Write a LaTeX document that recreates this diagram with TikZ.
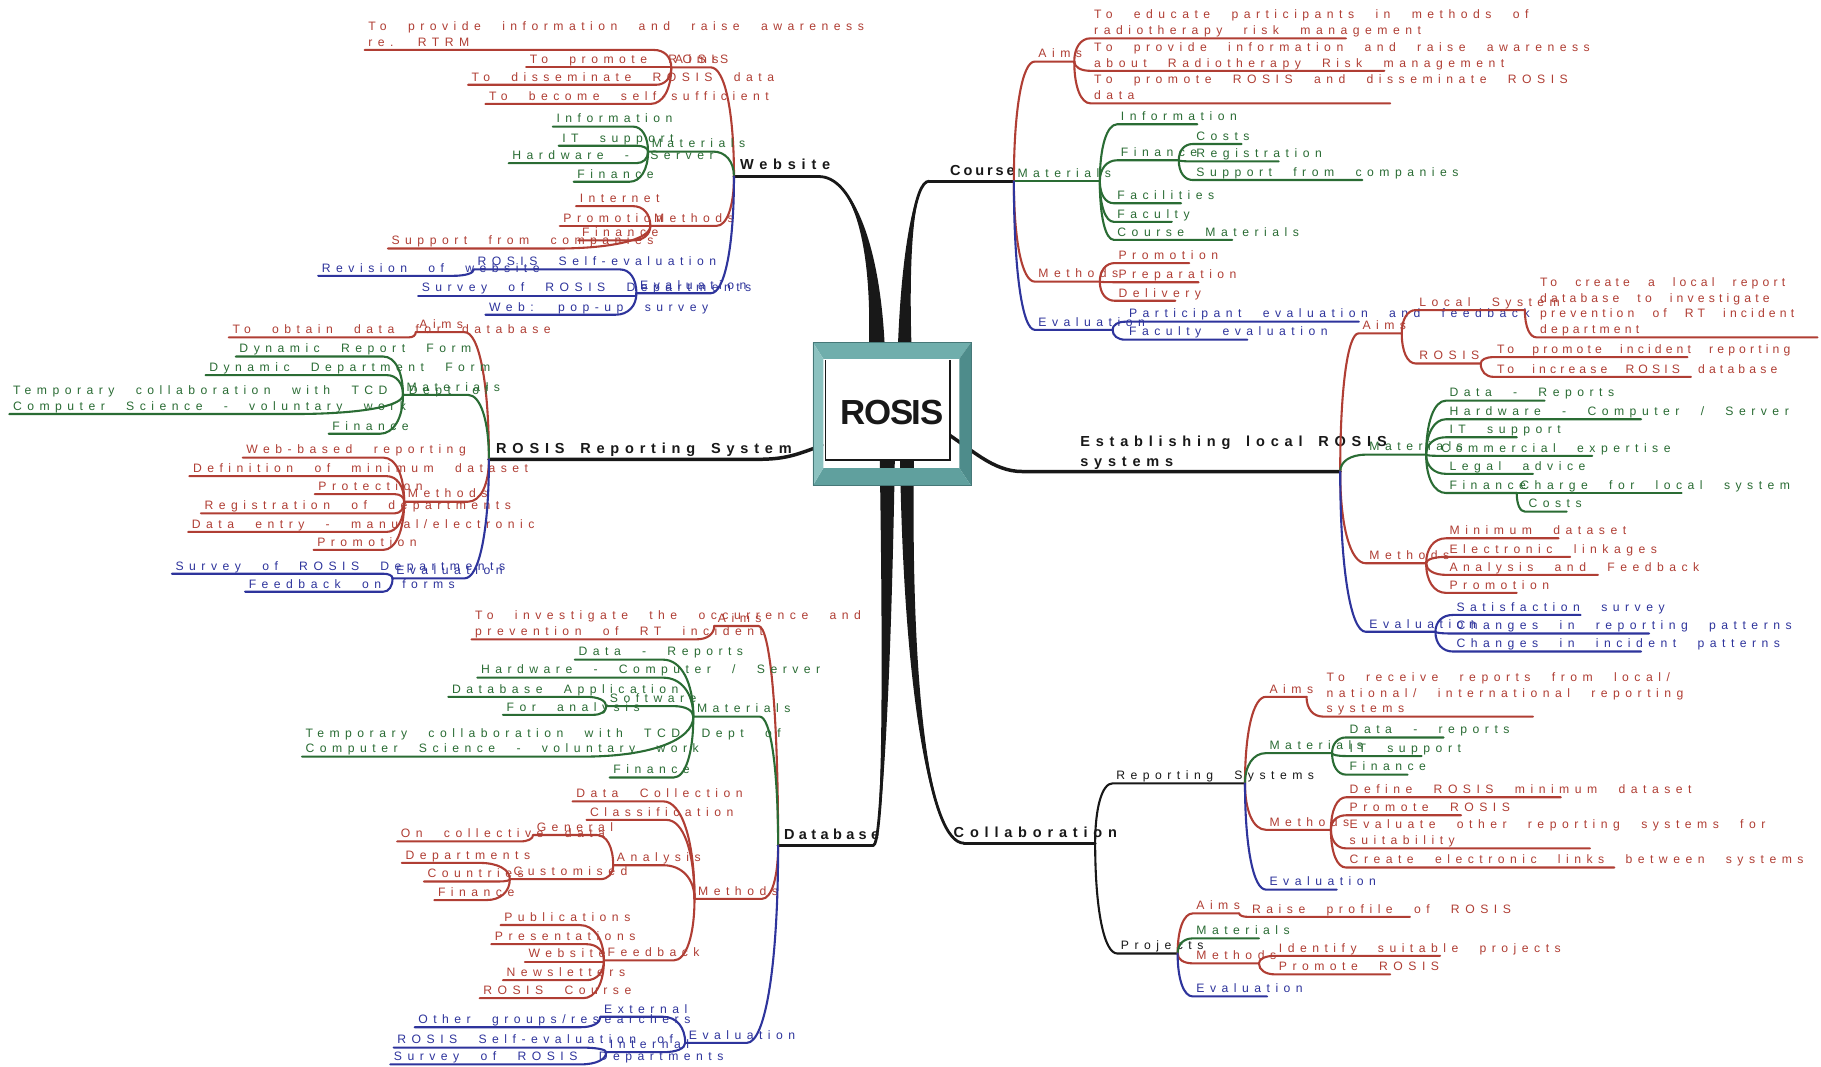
\documentclass[tikz,border=0pt]{standalone}
\usepackage{fontspec}
\usepackage{tikz}
\usetikzlibrary{calc}

\definecolor{redc}{RGB}{176,62,52}
\definecolor{greenc}{RGB}{42,108,52}
\definecolor{bluec}{RGB}{46,52,156}
\definecolor{blackc}{RGB}{24,24,24}
\definecolor{tealtop}{RGB}{112,174,172}
\definecolor{tealleft}{RGB}{140,194,192}
\definecolor{tealright}{RGB}{78,140,139}
\definecolor{tealbottom}{RGB}{96,160,158}
\definecolor{tealedge}{RGB}{70,120,120}

\newfontfamily\twigfamily[LetterSpace=45, WordSpace=2.4]{Liberation Sans}
\newfontfamily\headfamily[LetterSpace=40, WordSpace=1.6]{Liberation Sans}
\newfontfamily\rosisfamily[LetterSpace=-4]{Liberation Sans}
\newcommand{\twigfont}{\twigfamily\fontsize{10.5}{13.5}\selectfont}
\newcommand{\headfont}{\headfamily\bfseries\fontsize{12.5}{16.5}\selectfont}
\newcommand{\tight}{\addfontfeature{LetterSpace=34}}

% twig growing to the left: #4 = end joined to the parent, #5 = own junction
\newcommand{\ltwig}[7]{%
  \coordinate (#1) at (#5,#6);
  \coordinate (#1-f) at (#4,#6);
  \draw[link,#2] (#3) .. controls ($(#3)!0.6!(#3 |- #1-f)$) and ($(#1-f)!0.6!(#3 |- #1-f)$) .. (#1-f) -- (#1);
  \node[twig,text=#2] (#1-t) at ([shift={(3,-3)}]#1) {#7};
}
% twig growing to the right
\newcommand{\rtwig}[7]{%
  \coordinate (#1-f) at (#4,#6);
  \coordinate (#1) at (#5,#6);
  \draw[link,#2] (#3) .. controls ($(#3)!0.6!(#3 |- #1-f)$) and ($(#1-f)!0.6!(#3 |- #1-f)$) .. (#1-f) -- (#1);
  \node[twig,text=#2] (#1-t) at ([shift={(3,-3)}]#1-f) {#7};
}
% thick tapered main branch out of the centre box
\newcommand{\trunk}[3]{%
  \fill[blackc] ($(#1)+(-#3,0)$) .. controls ($(#1)!0.6!(#1 |- #2)+(-#3*0.5,0)$) and ($(#2)!0.6!(#1 |- #2)$) .. (#2)
    .. controls ($(#2)!0.6!(#1 |- #2)$) and ($(#1)!0.6!(#1 |- #2)+(#3*0.5,0)$) .. ($(#1)+(#3,0)$) -- cycle;
  \draw[trunkline] (#1) .. controls ($(#1)!0.6!(#1 |- #2)$) and ($(#2)!0.6!(#1 |- #2)$) .. (#2);
}

\begin{document}
\begin{tikzpicture}[x=1pt, y=-1pt,
  link/.style={line width=1.8pt, line cap=round},
  twig/.style={font=\twigfont, inner sep=0pt, text depth=0pt, anchor=south west, align=left},
  head/.style={font=\headfont, text=blackc, inner sep=0pt, text depth=0pt, anchor=south west, align=left},
  trunkline/.style={draw=blackc, line width=2.4pt, line cap=round}]

  \fill[white] (0,0) rectangle (1568,918);
  \useasboundingbox (0,0) rectangle (1568,918);

  % centre box and the points where the main branches leave it
  \node[minimum width=136pt, minimum height=123pt, inner sep=0pt] (rosis) at (768,356.5) {};
  \coordinate (web-b) at ([shift={(-13,8)}]rosis.north);
  \coordinate (crs-b) at ([shift={(11,8)}]rosis.north);
  \coordinate (db-b) at ([shift={(-4,-23)}]rosis.south);
  \coordinate (col-b) at ([shift={(13,-23)}]rosis.south);
  \coordinate (rep-b) at ([shift={(8,27)}]rosis.west);
  \coordinate (est-b) at ([shift={(-22,16)}]rosis.east);

  % junctions of the main branches
  \coordinate (w) at (632,152);   \coordinate (w-f) at (705,152);
  \coordinate (c) at (873,156);   \coordinate (c-f) at (800,156);
  \coordinate (r) at (421,395.5); \coordinate (r-f) at (652,395.5);
  \coordinate (e) at (1154,406);  \coordinate (e-f) at (880,406);
  \coordinate (d) at (670,728);   \coordinate (d-f) at (752,728);
  \coordinate (co) at (943,726);  \coordinate (co-f) at (830,726);

  % main branches
  \trunk{web-b}{w-f}{7}
  \draw[trunkline] (w-f) -- (w);
  \trunk{crs-b}{c-f}{6}
  \draw[trunkline] (c-f) -- (c);
  \trunk{db-b}{d-f}{6.5}
  \draw[trunkline] (d-f) -- (d);
  \trunk{col-b}{co-f}{6}
  \draw[trunkline] (co-f) -- (co);
  \draw[trunkline, line width=3pt] (rep-b) .. controls +(-22,8) and +(25,0) .. (r-f) -- (r);
  \draw[trunkline, line width=3pt] (est-b) .. controls +(22,14) and +(-25,0) .. (e-f) -- (e);

  % bevelled frame
  \fill[white] (711,310) rectangle (818,396);
  \fill[tealtop] (700,295) -- (836,295) -- (826,309) -- (709,309) -- cycle;
  \fill[tealright] (836,295) -- (836,418) -- (826,403) -- (826,309) -- cycle;
  \fill[tealbottom] (700,418) -- (836,418) -- (826,403) -- (709,403) -- cycle;
  \fill[tealleft] (700,295) -- (709,309) -- (709,403) -- (700,418) -- cycle;
  \draw[tealedge, line width=0.6pt] (700,295) rectangle (836,418);
  \draw[blackc, line width=1.2pt] (711,310) -- (711,396) -- (818,396) -- (818,310);
  \node[font=\rosisfamily\bfseries\fontsize{30}{30}\selectfont, text=blackc, inner sep=0pt] (rosis-text) at (768,355) {ROSIS};

  % main labels
  \node[head] (w-label) at (637,146.5) {Website};
  \node[head] (c-label) at (818,151.5) {\addfontfeature{LetterSpace=20}Course};
  \node[head] (r-label) at (427,390.5) {ROSIS Reporting System};
  \node[head] (e-label) at (930,401.5) {Establishing local ROSIS\\systems};
  \node[head] (d-label) at (675,723) {\addfontfeature{LetterSpace=30}Database};
  \node[head] (co-label) at (821,721) {Collaboration};

  % Website
  \ltwig{w-aims}{redc}{w}{612}{578}{58}{Aims}
  \ltwig{w-a1}{redc}{w-aims}{563}{314}{43}{To provide information and raise awareness\\re. RTRM}
  \ltwig{w-a2}{redc}{w-aims}{578}{453}{58}{To promote ROSIS}
  \ltwig{w-a3}{redc}{w-aims}{565}{403}{73}{To disseminate ROSIS data}
  \ltwig{w-a4}{redc}{w-aims}{560}{418}{89.5}{To become self-sufficient}
  \ltwig{w-mat}{greenc}{w}{614}{558}{130.5}{Materials}
  \ltwig{w-m1}{greenc}{w-mat}{545}{476}{109}{Information}
  \ltwig{w-m2}{greenc}{w-mat}{548}{481}{125.5}{IT support}
  \ltwig{w-m3}{greenc}{w-mat}{548}{438}{140.5}{Hardware - Server}
  \ltwig{w-m4}{greenc}{w-mat}{542}{494}{156.5}{Finance}
  \ltwig{w-meth}{redc}{w}{617}{560}{194.5}{Methods}
  \ltwig{w-me1}{redc}{w-meth}{545}{496}{177.5}{Internet}
  \ltwig{w-me2}{redc}{w-meth}{560}{482}{194.5}{Promotion}
  \ltwig{w-me3}{redc}{w-meth}{545}{498}{207}{Finance}
  \ltwig{w-me4}{redc}{w-meth}{479}{334}{214}{Support from companies}
  \ltwig{w-eval}{bluec}{w}{612}{548}{252.5}{Evaluation}
  \ltwig{w-e1}{bluec}{w-eval}{534}{408}{232}{ROSIS Self-evaluation}
  \ltwig{w-e11}{bluec}{w-e1}{390}{274}{237.5}{Revision of website}
  \ltwig{w-e2}{bluec}{w-eval}{548}{360}{254.5}{Survey of ROSIS Departments}
  \ltwig{w-e3}{bluec}{w-eval}{530}{418}{271}{Web: pop-up survey}

  % Course
  \rtwig{c-aims}{redc}{c}{891}{925}{53}{Aims}
  \rtwig{c-a1}{redc}{c-aims}{939}{1159}{33}{To educate participants in methods of\\radiotherapy risk management}
  \rtwig{c-a2}{redc}{c-aims}{939}{1192}{61}{To provide information and raise awareness\\about Radiotherapy Risk management}
  \rtwig{c-a3}{redc}{c-aims}{939}{1197}{89}{To promote ROSIS and disseminate ROSIS\\data}
  \rtwig{c-mat}{greenc}{c}{873}{947}{156}{Materials}
  \rtwig{c-m1}{greenc}{c-mat}{962}{1031}{107}{Information}
  \rtwig{c-m2}{greenc}{c-mat}{962}{1015}{138}{Finance}
  \rtwig{c-m21}{greenc}{c-m2}{1027}{1069}{124}{Costs}
  \rtwig{c-m22}{greenc}{c-m2}{1027}{1101}{139}{Registration}
  \rtwig{c-m23}{greenc}{c-m2}{1027}{1173}{155}{Support from companies}
  \rtwig{c-m3}{greenc}{c-mat}{959}{1017}{175}{Facilities}
  \rtwig{c-m4}{greenc}{c-mat}{959}{1009}{191}{Faculty}
  \rtwig{c-m5}{greenc}{c-mat}{959}{1061}{206.5}{Course Materials}
  \rtwig{c-meth}{redc}{c}{891}{947}{242.5}{Methods}
  \rtwig{c-me1}{redc}{c-meth}{960}{1024}{226.5}{Promotion}
  \rtwig{c-me2}{redc}{c-meth}{960}{1032}{243}{Preparation}
  \rtwig{c-me3}{redc}{c-meth}{960}{1012}{259}{Delivery}
  \rtwig{c-eval}{bluec}{c}{891}{958}{284}{Evaluation}
  \rtwig{c-e1}{bluec}{c-eval}{969}{1170}{277}{Participant evaluation and feedback}
  \rtwig{c-e2}{bluec}{c-eval}{969}{1074}{292.5}{Faculty evaluation}

  % ROSIS Reporting System
  \ltwig{r-aims}{redc}{r}{400}{358}{286}{Aims}
  \ltwig{r-a1}{redc}{r-aims}{352}{197}{290.5}{To obtain data for database}
  \ltwig{r-mat}{greenc}{r}{403}{347}{340}{Materials}
  \ltwig{r-m1}{greenc}{r-mat}{330}{203}{307}{Dynamic Report Form}
  \ltwig{r-m2}{greenc}{r-mat}{333}{177}{323}{Dynamic Department Form}
  \ltwig{r-m3}{greenc}{r-mat}{253}{8}{356.5}{Temporary collaboration with TCD Dept of\\Computer Science - voluntary work}
  \ltwig{r-m4}{greenc}{r-mat}{327}{283}{373.5}{Finance}
  \ltwig{r-meth}{redc}{r}{403}{348}{432}{Methods}
  \ltwig{r-me1}{redc}{r-meth}{330}{209}{394}{Web-based reporting}
  \ltwig{r-me2}{redc}{r-meth}{333}{163}{410}{Definition of minimum dataset}
  \ltwig{r-me3}{redc}{r-meth}{340}{271}{425.5}{Protection}
  \ltwig{r-me4}{redc}{r-meth}{340}{173}{442}{Registration of departments}
  \ltwig{r-me5}{redc}{r-meth}{333}{162}{458}{Data entry - manual/electronic}
  \ltwig{r-me6}{redc}{r-meth}{330}{270}{473.5}{Promotion}
  \ltwig{r-eval}{bluec}{r}{400}{338}{498}{Evaluation}
  \ltwig{r-e1}{bluec}{r-eval}{330}{148}{494}{Survey of ROSIS Departments}
  \ltwig{r-e2}{bluec}{r-eval}{330}{211}{509.5}{Feedback on forms}

  % Database
  \ltwig{d-aims}{redc}{d}{653}{615}{539}{Aims}
  \ltwig{d-a1}{redc}{d-aims}{600}{406}{550.5}{To investigate the occurrence and\\prevention of RT incident}
  \ltwig{d-mat}{greenc}{d}{654}{597}{617}{Materials}
  \ltwig{d-m1}{greenc}{d-mat}{571}{495}{568}{Data - Reports}
  \ltwig{d-m2}{greenc}{d-mat}{571}{411}{583.5}{Hardware - Computer / Server}
  \ltwig{d-m3}{greenc}{d-mat}{580}{522}{608}{Software}
  \ltwig{d-m31}{greenc}{d-m3}{505}{386}{600}{Database Application}
  \ltwig{d-m32}{greenc}{d-m3}{511}{433}{615.5}{For analysis}
  \ltwig{d-m4}{greenc}{d-mat}{502}{260}{651.5}{Temporary collaboration with TCD Dept of\\Computer Science - voluntary work}
  \ltwig{d-m5}{greenc}{d-mat}{580}{525}{669.5}{Finance}
  \ltwig{d-meth}{redc}{d}{656}{598}{774}{Methods}
  \ltwig{d-me1}{redc}{d-meth}{571}{493}{690}{Data Collection}
  \ltwig{d-me2}{redc}{d-meth}{574}{505}{706}{Classification}
  \ltwig{d-me3}{redc}{d-meth}{571}{528}{745}{Analysis}
  \ltwig{d-me31}{redc}{d-me3}{514}{459}{719}{General}
  \ltwig{d-me311}{redc}{d-me31}{448}{342}{724.5}{On collective data}
  \ltwig{d-me32}{redc}{d-me3}{517}{439}{757}{Customised}
  \ltwig{d-me321}{redc}{d-me32}{413}{346}{743}{Departments}
  \ltwig{d-me322}{redc}{d-me32}{430}{365}{759}{Countries}
  \ltwig{d-me323}{redc}{d-me32}{419}{374}{775}{Finance}
  \ltwig{d-me4}{redc}{d-meth}{580}{520}{827}{Feedback}
  \ltwig{d-me41}{redc}{d-me4}{499}{431}{796.5}{Publications}
  \ltwig{d-me42}{redc}{d-me4}{505}{423}{813}{Presentations}
  \ltwig{d-me43}{redc}{d-me4}{520}{452}{828}{Website}
  \ltwig{d-me44}{redc}{d-me4}{505}{433}{844}{Newsletters}
  \ltwig{d-me45}{redc}{d-me4}{502}{413}{859.5}{ROSIS Course}
  \ltwig{d-eval}{bluec}{d}{643}{590}{898}{Evaluation}
  \ltwig{d-e1}{bluec}{d-eval}{571}{517}{875.5}{External}
  \ltwig{d-e11}{bluec}{d-e1}{500}{357}{884.5}{Other groups/researchers}
  \ltwig{d-e2}{bluec}{d-eval}{571}{522}{906}{Internal}
  \ltwig{d-e21}{bluec}{d-e2}{500}{339}{902}{ROSIS Self-evaluation of}
  \ltwig{d-e22}{bluec}{d-e2}{500}{336}{916.5}{Survey of ROSIS Departments}

  % Establishing local ROSIS systems
  \rtwig{e-aims}{redc}{e}{1170}{1207}{287}{Aims}
  \rtwig{e-a1}{redc}{e-aims}{1219}{1313}{267}{Local System}
  \rtwig{e-a11}{redc}{e-a1}{1323}{1565}{290.5}{\tight To create a local report\\\tight database to investigate\\\tight prevention of RT incident\\\tight department}
  \rtwig{e-a2}{redc}{e-aims}{1219}{1275}{313}{ROSIS}
  \rtwig{e-a21}{redc}{e-a2}{1286}{1453}{307.5}{\tight To promote incident reporting}
  \rtwig{e-a22}{redc}{e-a2}{1286}{1456}{324.5}{\tight To increase ROSIS database}
  \rtwig{e-mat}{greenc}{e}{1176}{1228}{391.5}{Materials}
  \rtwig{e-m1}{greenc}{e-mat}{1245}{1330}{345}{Data - Reports}
  \rtwig{e-m2}{greenc}{e-mat}{1245}{1413}{361}{Hardware - Computer / Server}
  \rtwig{e-m3}{greenc}{e-mat}{1245}{1306}{376.5}{IT support}
  \rtwig{e-m4}{greenc}{e-mat}{1238}{1371}{392.5}{Commercial expertise}
  \rtwig{e-m5}{greenc}{e-mat}{1245}{1320}{408}{Legal advice}
  \rtwig{e-m6}{greenc}{e-mat}{1245}{1306}{424.5}{Finance}
  \rtwig{e-m61}{greenc}{e-m6}{1306}{1448}{424.5}{Charge for local system}
  \rtwig{e-m62}{greenc}{e-m6}{1313}{1349}{440.5}{Costs}
  \rtwig{e-meth}{redc}{e}{1176}{1228}{485}{Methods}
  \rtwig{e-me1}{redc}{e-meth}{1245}{1342}{463.5}{Minimum dataset}
  \rtwig{e-me2}{redc}{e-meth}{1245}{1352}{479.5}{Electronic linkages}
  \rtwig{e-me3}{redc}{e-meth}{1245}{1376}{495}{Analysis and Feedback}
  \rtwig{e-me4}{redc}{e-meth}{1245}{1306}{510.5}{Promotion}
  \rtwig{e-eval}{bluec}{e}{1176}{1236}{544}{Evaluation}
  \rtwig{e-e1}{bluec}{e-eval}{1251}{1361}{529.5}{Satisfaction survey}
  \rtwig{e-e2}{bluec}{e-eval}{1251}{1420}{545.5}{Changes in reporting patterns}
  \rtwig{e-e3}{bluec}{e-eval}{1251}{1413}{561}{Changes in incident patterns}

  % Collaboration
  \rtwig{co-rep}{blackc}{co}{958}{1072}{674.5}{Reporting Systems}
  \rtwig{co-r1}{redc}{co-rep}{1090}{1125}{600}{Aims}
  \rtwig{co-r11}{redc}{co-r1}{1139}{1320}{617}{To receive reports from local/\\national/ international reporting\\systems}
  \rtwig{co-r2}{greenc}{co-rep}{1090}{1147}{648.5}{Materials}
  \rtwig{co-r21}{greenc}{co-r2}{1159}{1243}{635}{Data - reports}
  \rtwig{co-r22}{greenc}{co-r2}{1159}{1224}{651}{IT support}
  \rtwig{co-r23}{greenc}{co-r2}{1159}{1212}{667}{Finance}
  \rtwig{co-r3}{redc}{co-rep}{1090}{1146}{714.5}{Methods}
  \rtwig{co-r31}{redc}{co-r3}{1159}{1344}{686.5}{Define ROSIS minimum dataset}
  \rtwig{co-r32}{redc}{co-r3}{1159}{1258}{702}{Promote ROSIS}
  \rtwig{co-r33}{redc}{co-r3}{1159}{1369}{730.5}{Evaluate other reporting systems for\\suitability}
  \rtwig{co-r34}{redc}{co-r3}{1159}{1390}{747}{Create electronic links between systems}
  \rtwig{co-r4}{bluec}{co-rep}{1090}{1151}{766}{Evaluation}
  \rtwig{co-pro}{blackc}{co}{962}{1014}{821}{Projects}
  \rtwig{co-p1}{redc}{co-pro}{1027}{1067}{786.5}{Aims}
  \rtwig{co-p11}{redc}{co-p1}{1075}{1214}{789.5}{Raise profile of ROSIS}
  \rtwig{co-p2}{greenc}{co-pro}{1027}{1084}{808}{Materials}
  \rtwig{co-p3}{redc}{co-pro}{1027}{1084}{829.5}{Methods}
  \rtwig{co-p31}{redc}{co-p3}{1098}{1240}{823}{Identify suitable projects}
  \rtwig{co-p32}{redc}{co-p3}{1098}{1197}{839}{Promote ROSIS}
  \rtwig{co-p4}{bluec}{co-pro}{1027}{1091}{858}{Evaluation}
\end{tikzpicture}
\end{document}
